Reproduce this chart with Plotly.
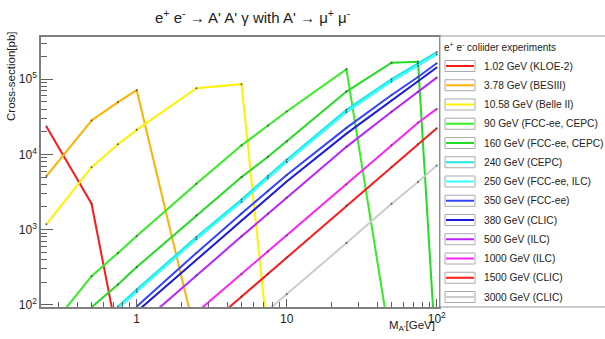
import plotly.graph_objects as go

# A' mass grid [GeV]
MASS = [0.25, 0.5, 0.75, 1.0, 2.5, 5.0, 7.5, 10.0, 25.0, 50.0, 75.0, 100.0]

# Cross-sections [pb] per collider energy (None = point not drawn)
XS_1p02 = [23500, 2210, 35, None, None, None, None, None, None, None, None, None]
XS_3p78 = [5150, 28200, 49500, 71400, 35, None, None, None, None, None, None, None]
XS_10p58 = [1175, 6760, 13600, 21200, 75900, 85900, 34, None, None, None, None, None]
XS_90 = [43, 240, 490, 822, 4080, 13200, 24200, 37200, 136000, 25, None, None]
XS_160 = [None, 93, 186, 318, 1550, 5000, 9330, 15000, 68400, 166000, 171000, 14]
XS_240 = [None, None, 95, 160, 798, 2520, 5150, 8510, 39100, 100000, 162000, 229000]
XS_250 = [None, None, 89, 149, 745, 2355, 4810, 7940, 36500, 93300, 151000, 213000]
XS_350 = [None, None, None, 95, 490, 1640, 3260, 5320, 22500, 61700, 107000, 163000]
XS_380 = [None, None, None, 81, 398, 1330, 2630, 4370, 18900, 52500, 93300, 143000]
XS_500 = [None, None, None, 50, 247, 813, 1620, 2650, 12600, 36900, 67600, 105000]
XS_1000 = [None, None, None, None, 79, 257, 513, 832, 3980, 13200, 26300, 40300]
XS_1500 = [None, None, None, None, 39, 129, 257, 427, 2090, 6820, 13800, 22300]
XS_3000 = [None, None, None, None, None, None, 85, 138, 664, 2210, 4290, 7140]

SERIES = [XS_1p02, XS_3p78, XS_10p58, XS_90, XS_160, XS_240, XS_250,
          XS_350, XS_380, XS_500, XS_1000, XS_1500, XS_3000]
LABELS = ["1.02 GeV (KLOE-2)", "3.78 GeV (BESIII)", "10.58 GeV (Belle II)",
          "90 GeV (FCC-ee, CEPC)", "160 GeV (FCC-ee, CEPC)", "240 GeV (CEPC)",
          "250 GeV (FCC-ee, ILC)", "350 GeV (FCC-ee)", "380 GeV (CLIC)",
          "500 GeV (ILC)", "1000 GeV (ILC)", "1500 GeV (CLIC)", "3000 GeV (CLIC)"]
COLORS = ["#ff1a1a", "#ffb300", "#fff200", "#33ee22", "#22dd22", "#22e5e5",
          "#33ffff", "#3344ff", "#1a1add", "#bb22ff", "#ff22ff", "#ff1a1a",
          "#cccccc"]

X_TICKS = [1, 10, 100]
X_TICKTEXT = ["1", "10", "10<sup>2</sup>"]
Y_TICKS = [1e2, 1e3, 1e4, 1e5]
Y_TICKTEXT = ["10<sup>2</sup>", "10<sup>3</sup>", "10<sup>4</sup>", "10<sup>5</sup>"]

FONT = "Liberation Sans, Arial, sans-serif"
W, H = 605, 339
L, R, T, B = 41, 439, 37, 307


def px(x):
    return (x - L) / (R - L)


def py(y):
    return (B - y) / (B - T)


fig = go.Figure()
for vals, name, col in zip(SERIES, LABELS, COLORS):
    fig.add_trace(go.Scatter(
        x=MASS, y=vals, name=name, mode="lines+markers",
        line=dict(color=col, width=2),
        marker=dict(size=2, color="rgba(60,60,60,0.8)"),
        connectgaps=False, showlegend=False, cliponaxis=True,
    ))

axis_common = dict(
    showgrid=False, zeroline=False, showline=True, linecolor="#808080",
    linewidth=1.5, mirror=True, ticks="inside", tickcolor="#606060",
    tickfont=dict(family=FONT, size=12, color="#222"),
)
fig.update_xaxes(type="log", range=[-0.638, 2.015], tickvals=X_TICKS,
                 ticktext=X_TICKTEXT, ticklen=8,
                 minor=dict(ticks="inside", ticklen=5, dtick="D1",
                            tickcolor="#606060", showgrid=False),
                 **axis_common)
fig.update_yaxes(type="log", range=[1.971, 5.561], tickvals=Y_TICKS,
                 ticktext=Y_TICKTEXT, ticklen=12,
                 minor=dict(ticks="inside", ticklen=6, dtick="D1",
                            tickcolor="#606060", showgrid=False),
                 **axis_common)

shapes = []
annotations = []

# legend frame
shapes.append(dict(type="rect", xref="paper", yref="paper",
                   x0=px(440), x1=px(607), y0=py(307), y1=py(36),
                   line=dict(color="#999999", width=1), fillcolor="white",
                   layer="above"))
annotations.append(dict(xref="paper", yref="paper", x=px(442), y=py(47),
                        xanchor="left", yanchor="middle", showarrow=False,
                        text="e<sup>+</sup> e<sup>-</sup> coliider experiments",
                        font=dict(family=FONT, size=10, color="#222")))
for i, (name, col) in enumerate(zip(LABELS, COLORS)):
    yc = 66 + 19.25 * i
    shapes.append(dict(type="rect", xref="paper", yref="paper",
                       x0=px(445), x1=px(475), y0=py(yc + 5.5), y1=py(yc - 5.5),
                       line=dict(color="#aaaaaa", width=1), fillcolor="white",
                       layer="above"))
    shapes.append(dict(type="line", xref="paper", yref="paper",
                       x0=px(446), x1=px(474), y0=py(yc), y1=py(yc),
                       line=dict(color=col, width=2), layer="above"))
    annotations.append(dict(xref="paper", yref="paper", x=px(482), y=py(yc),
                            xanchor="left", yanchor="middle", showarrow=False,
                            text=name,
                            font=dict(family=FONT, size=10.2, color="#222")))

# title and axis titles
annotations.append(dict(xref="paper", yref="paper", x=px(253), y=py(16),
                        xanchor="center", yanchor="middle", showarrow=False,
                        text="e<sup>+</sup> e<sup>-</sup> \u2192 A' A' \u03b3 with A' \u2192 \u03bc<sup>+</sup> \u03bc<sup>-</sup>",
                        font=dict(family=FONT, size=15, color="#222")))
annotations.append(dict(xref="paper", yref="paper", x=px(11), y=py(77),
                        xanchor="center", yanchor="middle", showarrow=False,
                        textangle=-90, text="Cross-section[pb]",
                        font=dict(family=FONT, size=11.5, color="#222")))
annotations.append(dict(xref="paper", yref="paper", x=px(437), y=py(326),
                        xanchor="right", yanchor="middle", showarrow=False,
                        text="M<sub>A'</sub>[GeV]",
                        font=dict(family=FONT, size=11.5, color="#222")))

fig.update_layout(
    width=W, height=H, margin=dict(l=L, r=W - R, t=T, b=H - B),
    paper_bgcolor="white", plot_bgcolor="white",
    shapes=shapes, annotations=annotations, showlegend=False,
    font=dict(family=FONT),
)

fig.write_html("out.html")
